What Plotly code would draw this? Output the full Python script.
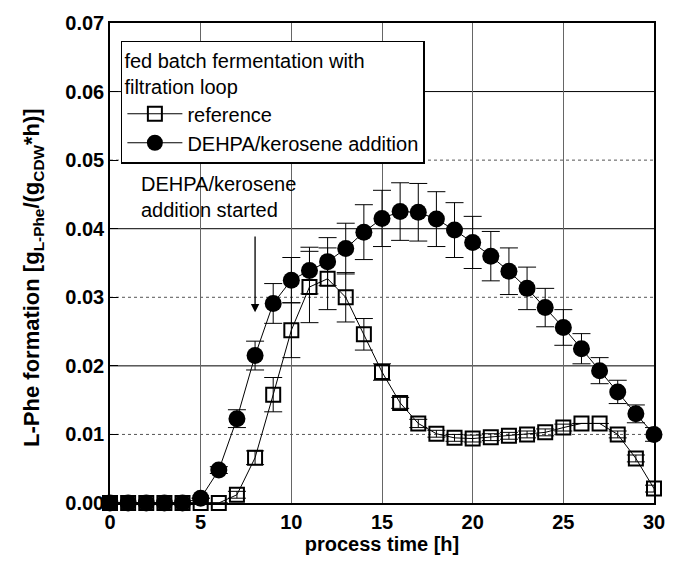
import plotly.graph_objects as go

# process time [h]
hours = list(range(0, 31))

# reference fermentation (filtration loop only)
ref_rate = [0.0, 0.0, 0.0, 0.0, 0.0, 0.0, 0.0, 0.0012, 0.0066, 0.0158, 0.0252,
            0.0315, 0.0327, 0.0300, 0.0246, 0.0191, 0.0146, 0.0116, 0.0101, 0.0095,
            0.0094, 0.0096, 0.0098, 0.0100, 0.0103, 0.0110, 0.0116, 0.0116, 0.0100,
            0.0065, 0.0021]
ref_err = [0, 0, 0, 0, 0, 0, 0, 0.0005, 0.001, 0.0025, 0.004, 0.0052, 0.0045,
           0.0036, 0.0023, 0.0012, 0.0008, 0.0006, 0.0005, 0.0005, 0.0005, 0.0005,
           0.0005, 0.0005, 0.0005, 0.0005, 0, 0, 0.0005, 0.0005, 0.0005]

# fermentation with DEHPA/kerosene addition
dehpa_rate = [0.0, 0.0, 0.0, 0.0, 0.0, 0.0007, 0.0048, 0.0123, 0.0215, 0.0291,
              0.0325, 0.0339, 0.0352, 0.0371, 0.0395, 0.0415, 0.0425, 0.0424,
              0.0414, 0.0398, 0.0380, 0.0360, 0.0338, 0.0313, 0.0285, 0.0256,
              0.0225, 0.0193, 0.0162, 0.0130, 0.0100]
dehpa_err = [0, 0, 0, 0, 0, 0, 0.0005, 0.0013, 0.0021, 0.0029, 0.0033, 0.0034,
             0.0035, 0.0037, 0.0040, 0.0041, 0.0042, 0.0042, 0.0040, 0.0040,
             0.0038, 0.0036, 0.0034, 0.0031, 0.0028, 0.0026, 0.0022, 0.0019,
             0.0017, 0.0013, 0.0010]

x_ticks = [0, 5, 10, 15, 20, 25, 30]
y_ticks = [0.00, 0.01, 0.02, 0.03, 0.04, 0.05, 0.06, 0.07]
y_solid_grid = [0.02, 0.04, 0.06]
y_dotted_grid = [0.01, 0.03, 0.05]

# start of the DEHPA/kerosene addition
addition_time = 8
arrow_top, arrow_tip = 0.0390, 0.0278

FONT = "Liberation Sans, Arial, sans-serif"

fig = go.Figure()

fig.add_trace(go.Scatter(
    x=hours, y=ref_rate, name="reference", mode="lines+markers",
    line=dict(color="black", width=1),
    marker=dict(symbol="square-open", size=14, color="black",
                line=dict(width=2, color="black")),
    error_y=dict(type="data", array=ref_err, visible=True, color="black",
                 thickness=1, width=9),
    cliponaxis=False,
))

fig.add_trace(go.Scatter(
    x=hours, y=dehpa_rate, name="DEHPA/kerosene addition", mode="lines+markers",
    line=dict(color="black", width=1),
    marker=dict(symbol="circle", size=17, color="black"),
    error_y=dict(type="data", array=dehpa_err, visible=True, color="black",
                 thickness=1, width=9),
    cliponaxis=False,
))

# horizontal gridlines: solid at even steps, dotted in between
for yv in y_solid_grid:
    fig.add_shape(type="line", xref="paper", x0=0, x1=1, yref="y", y0=yv, y1=yv,
                  line=dict(color="black", width=1), layer="below")
for yv in y_dotted_grid:
    fig.add_shape(type="line", xref="paper", x0=0, x1=1, yref="y", y0=yv, y1=yv,
                  line=dict(color="#555", width=1, dash="dot"), layer="below")

# arrow marking the start of the addition
fig.add_annotation(
    x=addition_time, y=arrow_tip, ax=addition_time, ay=arrow_top,
    xref="x", yref="y", axref="x", ayref="y",
    showarrow=True, arrowhead=2, arrowsize=1.3, arrowwidth=1.3,
    arrowcolor="black", text=" ", font=dict(size=1), borderpad=0,
)
fig.add_annotation(
    x=1.6, y=0.0484, xref="x", yref="y", xanchor="left", yanchor="top",
    text="DEHPA/kerosene<br>addition started", showarrow=False, align="left",
    font=dict(family=FONT, size=20, color="black"),
)

fig.add_annotation(
    x=-0.17, y=0.47, xref="paper", yref="paper", textangle=-90,
    text="<b>L-Phe formation [g<sub>L-Phe</sub>/(g<sub>CDW</sub>*h)]</b>",
    showarrow=False, font=dict(family=FONT, size=22, color="black"),
)

fig.update_layout(
    width=679, height=563,
    margin=dict(l=110, r=25, t=19, b=59),
    paper_bgcolor="white", plot_bgcolor="white",
    font=dict(family=FONT, size=20, color="black"),
    showlegend=True,
    legend=dict(
        x=0.02, y=0.963, xanchor="left", yanchor="top",
        bgcolor="white", bordercolor="black", borderwidth=1.5,
        font=dict(family=FONT, size=20, color="black"),
        title=dict(text="fed batch fermentation with<br>filtration loop",
                   font=dict(family=FONT, size=20, color="black")),
        itemwidth=55,
    ),
    xaxis=dict(
        range=[0, 30], tickvals=x_ticks, showgrid=True, gridcolor="#666",
        gridwidth=1, showline=True, linecolor="black", linewidth=1.5,
        mirror=True, ticks="", zeroline=False,
        tickfont=dict(family=FONT, size=20, color="black", weight="bold"),
        title=dict(text="<b>process time [h]</b>", standoff=4,
                   font=dict(family=FONT, size=20, color="black")),
    ),
    yaxis=dict(
        range=[0, 0.07], tickvals=y_ticks, tickformat=".2f", showgrid=False,
        showline=True, linecolor="black", linewidth=1.5, mirror=True,
        ticks="inside", ticklen=8, tickcolor="black", zeroline=False,
        tickfont=dict(family=FONT, size=20, color="black", weight="bold"),
    ),
)

fig.write_html("out.html")
